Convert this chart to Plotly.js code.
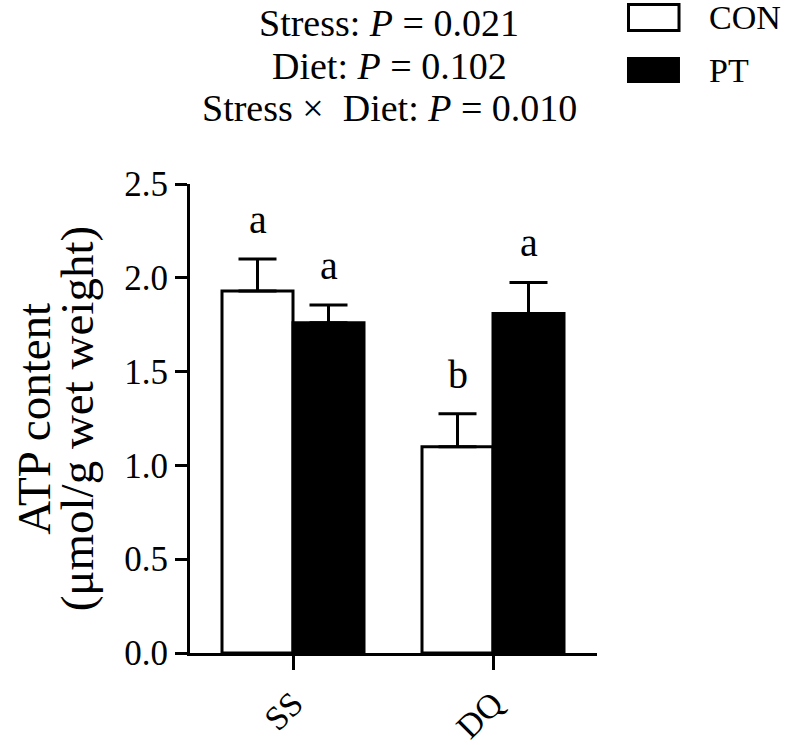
<!DOCTYPE html>
<html>
<head>
<meta charset="utf-8">
<script src="https://cdn.plot.ly/plotly-3.0.1.min.js"></script>
<style>html,body{margin:0;padding:0;background:#fff;}#chart{width:788px;height:745px;}</style>
</head>
<body>
<div id="chart"></div>
<script>
// ---- data ----
const categories = ['SS', 'DQ'];
const seriesNames = ['CON', 'PT'];
const conMean = [1.93, 1.10];
const conSem = [0.17, 0.175];
const ptMean = [1.76, 1.81];
const ptSem = [0.095, 0.165];
const conLetters = ['a', 'b'];
const ptLetters = ['a', 'a'];
const statLines = [
  'Stress: <i>P</i> = 0.021',
  'Diet: <i>P</i> = 0.102',
  'Stress ×  Diet: <i>P</i> = 0.010'
];
const yTitleLines = ['ATP content', '(μmol/g wet weight)'];
const yTicks = [0, 0.5, 1.0, 1.5, 2.0, 2.5];

// ---- styling ----
const FONT = 'Liberation Serif, Times New Roman, serif';
const bargap = 0.29;
const barOffset = (1 - bargap) / 4;

function barTrace(name, means, sems, fill) {
  return {
    type: 'bar', name: name, x: categories, y: means,
    marker: {color: fill, line: {color: '#000', width: 3}},
    error_y: {type: 'data', symmetric: false, array: sems, arrayminus: sems.map(() => 0),
              color: '#000', thickness: 3, width: 19},
    showlegend: false
  };
}

const traces = [
  barTrace(seriesNames[0], conMean, conSem, '#ffffff'),
  barTrace(seriesNames[1], ptMean, ptSem, '#000000')
];

const annotations = [];
// significance letters
[[conMean, conSem, conLetters, -1], [ptMean, ptSem, ptLetters, 1]].forEach(([m, s, l, side]) => {
  categories.forEach((c, i) => {
    annotations.push({
      xref: 'x', yref: 'y', x: i + side * barOffset, y: m[i] + s[i],
      text: l[i], showarrow: false, xanchor: 'center', yanchor: 'bottom', yshift: 15,
      font: {family: FONT, size: 40, color: '#000'}
    });
  });
});
// stats lines
const statY = [1.343, 1.251, 1.162];
statLines.forEach((t, i) => {
  annotations.push({
    xref: 'paper', yref: 'paper', x: 0.489, y: statY[i], text: t, showarrow: false,
    xanchor: 'center', yanchor: 'middle', font: {family: FONT, size: 38, color: '#000'}
  });
});
// y title lines
const yTitleX = [-0.385, -0.278];
yTitleLines.forEach((t, i) => {
  annotations.push({
    xref: 'paper', yref: 'paper', x: yTitleX[i], y: 0.50, text: t, showarrow: false,
    textangle: -90, xanchor: 'center', yanchor: 'middle',
    font: {family: FONT, size: 47, color: '#000'}
  });
});
// legend labels
const legY = [1.354, 1.241];
seriesNames.forEach((n, i) => {
  annotations.push({
    xref: 'paper', yref: 'paper', x: 1.27, y: legY[i], text: n, showarrow: false,
    xanchor: 'left', yanchor: 'middle', font: {family: FONT, size: 34, color: '#000'}
  });
});

const shapes = [
  {type: 'rect', xref: 'paper', yref: 'paper', x0: 1.0774, x1: 1.2015, y0: 1.3273, y1: 1.3827,
   line: {color: '#000', width: 3}, fillcolor: '#ffffff'},
  {type: 'rect', xref: 'paper', yref: 'paper', x0: 1.0737, x1: 1.2039, y0: 1.2154, y1: 1.2708,
   line: {color: '#000', width: 0}, fillcolor: '#000000'}
];

const layout = {
  width: 788, height: 745,
  margin: {l: 190, r: 191, t: 184, b: 92, pad: 0},
  paper_bgcolor: '#fff', plot_bgcolor: '#fff',
  font: {family: FONT, color: '#000'},
  barmode: 'group', bargap: bargap, bargroupgap: 0,
  showlegend: false,
  xaxis: {
    type: 'category', range: [-0.515, 1.52], showline: true, linewidth: 3, linecolor: '#000',
    ticks: 'outside', ticklen: 14, tickwidth: 3, tickcolor: '#000', tickangle: -45,
    tickfont: {family: FONT, size: 34, color: '#000'}, showgrid: false, zeroline: false, fixedrange: true
  },
  yaxis: {
    range: [0, 2.5], tickvals: yTicks, tickformat: '.1f', showline: true, linewidth: 3, linecolor: '#000',
    ticks: 'outside', ticklen: 12, tickwidth: 3, tickcolor: '#000', ticklabelstandoff: 0,
    tickfont: {family: FONT, size: 35, color: '#000'}, showgrid: false, zeroline: false, fixedrange: true
  },
  annotations: annotations,
  shapes: shapes
};

Plotly.newPlot('chart', traces, layout, {displayModeBar: false, staticPlot: true});
</script>
</body>
</html>
